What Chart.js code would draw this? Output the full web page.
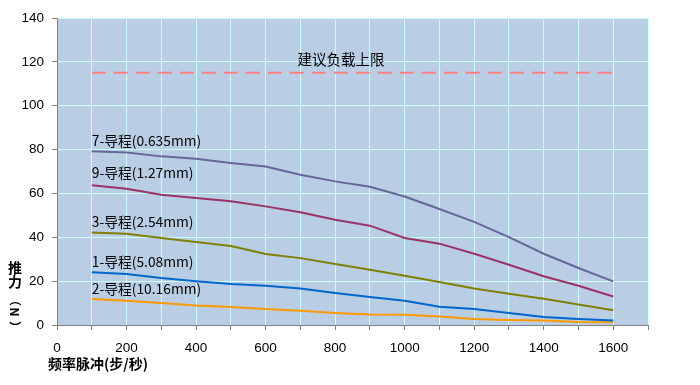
<!DOCTYPE html>
<html><head><meta charset="utf-8">
<script src="https://cdn.jsdelivr.net/npm/chart.js@4"></script>
<style>html,body{margin:0;padding:0;background:#fff}#wrap{width:700px;height:385px}</style>
</head><body><div id="wrap"><canvas id="c" width="700" height="385"></canvas></div>
<script>
const freq = [100,200,300,400,500,600,700,800,900,1000,1100,1200,1300,1400,1500,1600];
const lead7 = [79.2,78.7,76.9,75.8,73.9,72.3,68.5,65.5,63.0,58.6,52.9,47.0,40.1,32.5,26.0,19.9];
const lead9 = [63.7,62.1,59.4,57.9,56.4,54.1,51.4,48.0,45.3,39.7,37.1,32.5,27.5,22.2,17.9,13.0];
const lead3 = [42.2,41.6,39.7,37.8,36.0,32.4,30.5,27.8,25.2,22.5,19.6,16.6,14.3,12.0,9.3,6.7];
const lead1 = [24.0,23.3,21.4,19.9,18.7,17.9,16.6,14.6,12.8,11.1,8.3,7.3,5.5,3.6,2.7,2.1];
const lead2 = [11.9,11.1,10.0,8.9,8.2,7.3,6.5,5.5,4.8,4.7,3.9,2.7,2.3,2.0,1.4,1.2];
const limitVal = 115;
const seriesNames = ['7-导程(0.635mm)','9-导程(1.27mm)','3-导程(2.54mm)','1-导程(5.08mm)','2-导程(10.16mm)'];
const limitName = '建议负载上限';
const yTitle = '推力（N）';
const xTitle = '频率脉冲(步/秒)';
const labelY = [84, 69.3, 47.2, 29, 16.4];

const colors = ['#666699','#993366','#808000','#0066CC','#FF9900'];
const allSeries = [lead7, lead9, lead3, lead1, lead2];
const CJK = '"Noto Sans CJK SC", "Liberation Sans", sans-serif';
const TICKF = '"Liberation Sans", "DejaVu Sans", sans-serif';

const datasets = allSeries.map((s,i)=>({
  label: seriesNames[i],
  data: freq.map((x,j)=>({x, y:s[j]})),
  borderColor: colors[i], borderWidth: 2, pointRadius: 0, tension: 0, fill:false
}));
datasets.push({
  label: limitName,
  data: [{x:freq[0], y:limitVal},{x:freq[freq.length-1], y:limitVal}],
  borderColor:'#FF8080', borderWidth:2, borderDash:[14,8], pointRadius:0, fill:false
});

const bgPlugin = {
  id:'bg',
  beforeDraw(chart){
    const {ctx, chartArea:a} = chart;
    ctx.save(); ctx.fillStyle='#B9CDE5';
    ctx.fillRect(a.left, a.top, a.right-a.left, a.bottom-a.top);
    ctx.restore();
  }
};
const labelPlugin = {
  id:'labels',
  afterDatasetsDraw(chart){
    const {ctx, scales:{x,y}} = chart;
    ctx.save();
    ctx.fillStyle='#000';
    ctx.font = '13.8px ' + CJK;
    ctx.textAlign='left'; ctx.textBaseline='middle';
    seriesNames.forEach((n,i)=>{
      ctx.fillText(n, x.getPixelForValue(freq[0]), y.getPixelForValue(labelY[i]));
    });
    ctx.textAlign='center';
    ctx.font = '14.5px ' + CJK;
    ctx.fillText(limitName, x.getPixelForValue(817), y.getPixelForValue(121.3));
    // x title
    ctx.font = 'bold 14px ' + CJK;
    ctx.textAlign='left';
    ctx.fillText(xTitle, 48, 364);
    // y title (vertical)
    const chars = Array.from(yTitle);
    const ys = [268, 282, 300, 312, 327];
    ctx.textAlign='center';
    chars.forEach((c,i)=>{
      ctx.save();
      ctx.translate(15, ys[i]);
      if (i>=2) ctx.rotate(Math.PI/2);
      ctx.font = (i>=2 ? 'bold 12px ' : 'bold 14px ') + CJK;
      ctx.fillText(c, 0, 0);
      ctx.restore();
    });
    ctx.restore();
  }
};

new Chart(document.getElementById('c'), {
  type:'line',
  data:{datasets},
  options:{
    responsive:false, animation:false,
    layout:{padding:{left:0, top:18, right:52, bottom:0}},
    plugins:{legend:{display:false}, tooltip:{enabled:false}},
    scales:{
      x:{type:'linear', min:0, max:1700,
        ticks:{stepSize:100, autoSkip:false, maxRotation:0, color:'#000', padding:10,
          font:{family:TICKF, size:13.5},
          callback:(v)=> (v%200===0 && v<=1600) ? String(v) : ''},
        grid:{color:'#CCFFFF', lineWidth:1, tickColor:'#808080', tickLength:5, drawTicks:true},
        border:{color:'#808080', width:1},
        afterFit(s){ s.height = 60; }
      },
      y:{min:0, max:140,
        ticks:{stepSize:20, color:'#000', padding:8, font:{family:TICKF, size:13.5}},
        grid:{color:'#CCFFFF', lineWidth:1, tickColor:'#808080', tickLength:5},
        border:{color:'#808080', width:1},
        afterFit(s){ s.width = 57; }
      }
    }
  },
  plugins:[bgPlugin, labelPlugin]
});
</script></body></html>
